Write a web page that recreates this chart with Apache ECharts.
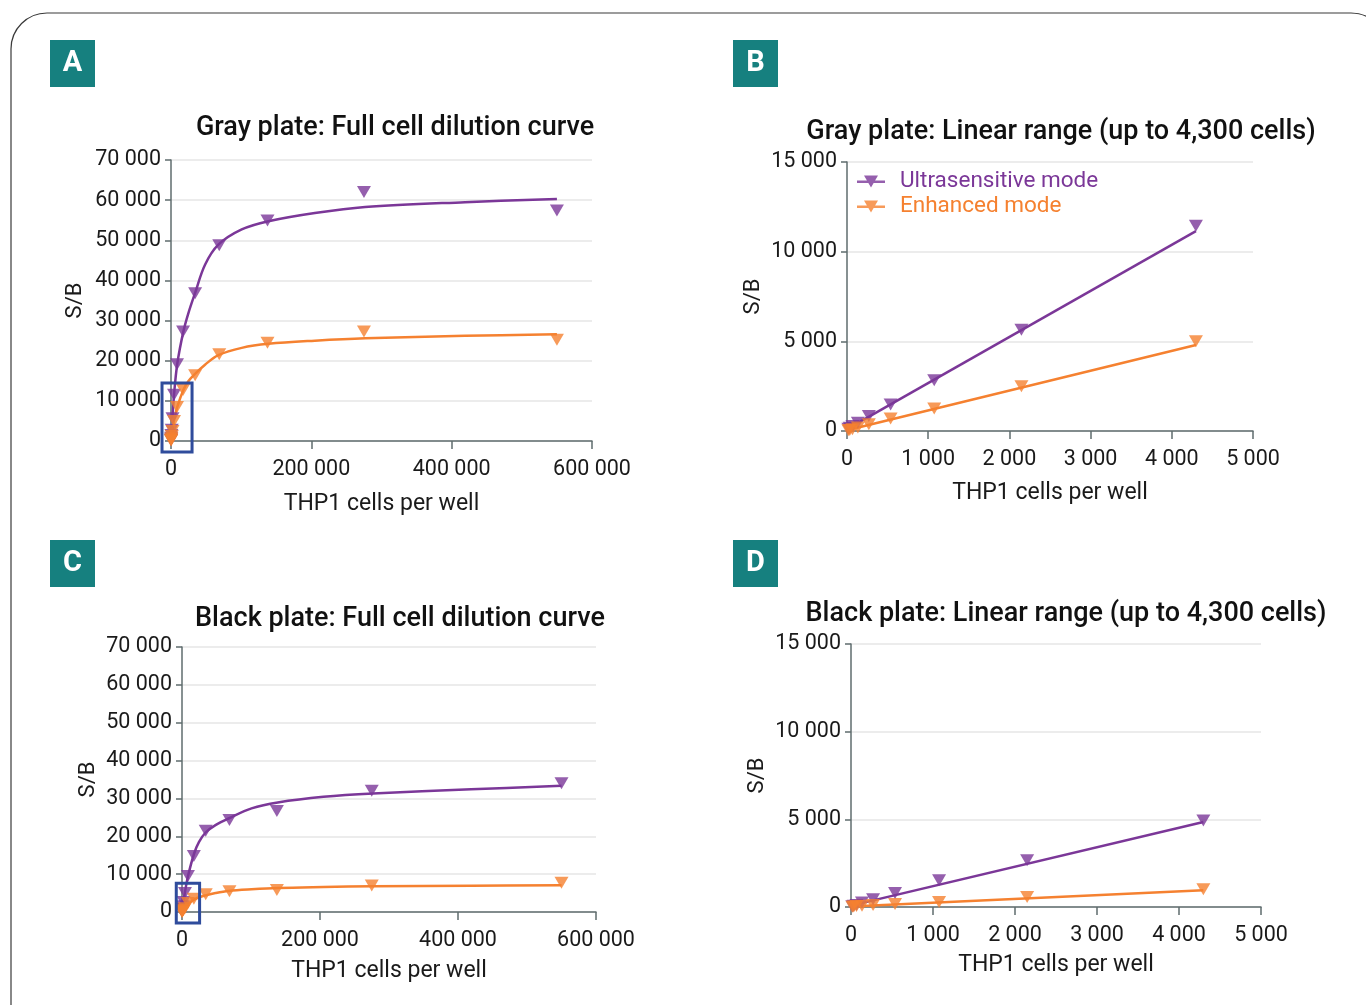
<!DOCTYPE html>
<html lang="en">
<head>
    <meta charset="UTF-8">
    <title>THP1 cell dilution curves</title>
    <script src="https://cdn.jsdelivr.net/npm/echarts@6/dist/echarts.min.js"></script>
    <style>
        html, body { margin: 0; padding: 0; background: #fff; }
        #main { width: 1366px; height: 1005px; }
    </style>
</head>
<body>
<div id="main"></div>
<script>
    // cells per well (2-fold dilutions)
    var xFull = [550000, 275000, 137500, 68750, 34375, 17188, 8594, 4297, 2148, 1074, 537, 269, 134, 67];
    var xLin = [4297, 2148, 1074, 537, 269, 134, 67, 34, 17];

    // panel A, gray plate, full curve
    var aUltra = [57400, 62000, 54900, 48750, 36800, 27250, 19100, 11500, 5650, 2830, 1480, 830, 460, 280];
    var aEnh = [25200, 27250, 24500, 21600, 16400, 12700, 8500, 5000, 2500, 1260, 700, 370, 190, 100];
    // panel B, gray plate, linear range
    var bUltra = [11440, 5650, 2830, 1480, 830, 460, 280, 185, 120];
    var bEnh = [5000, 2500, 1260, 700, 370, 190, 100, 60, 40];
    // panel C, black plate, full curve
    var cUltra = [34000, 32000, 26700, 24300, 21450, 14800, 9500, 5000, 2660, 1520, 800, 440, 250, 120];
    var cEnh = [7700, 7000, 5800, 5500, 4700, 3500, 2400, 1010, 570, 285, 170, 110, 70, 50];
    // panel D, black plate, linear range
    var dUltra = [4940, 2660, 1520, 800, 440, 250, 120, 70, 40];
    var dEnh = [1010, 570, 285, 170, 110, 70, 50, 30, 20];

    // fitted curves
    var fitX = [2100, 4300, 9000, 17600, 24700, 34200, 48500, 67500, 100800, 138800, 205000, 276700, 419000, 550000];
    var fitAUltra = [5600, 11500, 19300, 27250, 31800, 36800, 43900, 48900, 52700, 54750, 56800, 58300, 59500, 60300];
    var fitAEnh = [2600, 5200, 8500, 12700, 14900, 16700, 19000, 21400, 23200, 24200, 25000, 25600, 26200, 26600];
    var fitCUltra = [2600, 5300, 9700, 15450, 18500, 21000, 22950, 24700, 27360, 28950, 30450, 31330, 32400, 33360];
    var fitCEnh = [550, 1050, 2200, 3270, 3900, 4400, 5000, 5560, 6000, 6350, 6600, 6800, 6950, 7060];
    var fitLinX = [0, 4297];
    var fitBUltra = [100, 11150];
    var fitBEnh = [40, 4800];
    var fitDUltra = [80, 4850];
    var fitDEnh = [30, 960];

    var titles = ['Gray plate: Full cell dilution curve', 'Gray plate: Linear range (up to 4,300 cells)',
        'Black plate: Full cell dilution curve', 'Black plate: Linear range (up to 4,300 cells)'];
    var seriesNames = ['Ultrasensitive mode', 'Enhanced mode'];

    var purple = '#7b3798';
    var orange = '#f58130';
    var teal = '#16807f';
    var axisColor = '#5f6c6e';
    var fontFam = 'Roboto, "Noto Sans", sans-serif';

    function pairs(xs, ys) {
        return xs.map(function (x, i) { return [x, ys[i]]; });
    }
    function spaced(v) {
        return String(v).replace(/\B(?=(\d{3})+(?!\d))/g, ' ');
    }

    var grids = [
        {left: 171, top: 160, width: 421, height: 281},
        {left: 847, top: 162, width: 406, height: 269},
        {left: 182, top: 647, width: 414, height: 265},
        {left: 851, top: 644, width: 410, height: 263}
    ];

    function xAx(i, max, interval, gap) {
        return {
            gridIndex: i, type: 'value', min: 0, max: max, interval: interval,
            name: 'THP1 cells per well', nameLocation: 'middle', nameGap: gap,
            nameTextStyle: {fontSize: 23, color: '#1a1a1a', fontFamily: fontFam},
            axisLine: {show: true, onZero: false, lineStyle: {color: axisColor, width: 1.5}},
            axisTick: {show: true, length: 8, lineStyle: {color: axisColor, width: 1.5}},
            axisLabel: {fontSize: 21.5, color: '#1a1a1a', margin: 18, fontFamily: fontFam, formatter: spaced},
            splitLine: {show: false}
        };
    }
    function yAx(i, max, interval, gap) {
        return {
            gridIndex: i, type: 'value', min: 0, max: max, interval: interval,
            name: 'S/B', nameLocation: 'middle', nameGap: gap, nameRotate: 90,
            nameTextStyle: {fontSize: 22, color: '#1a1a1a', fontFamily: fontFam},
            axisLine: {show: true, onZero: false, lineStyle: {color: axisColor, width: 1.5}},
            axisTick: {show: true, length: 6, lineStyle: {color: axisColor, width: 1.5}},
            axisLabel: {fontSize: 21.5, color: '#1a1a1a', margin: 10, fontFamily: fontFam, formatter: spaced},
            splitLine: {show: true, lineStyle: {color: '#e6e6e6', width: 1.5}}
        };
    }

    function fitSeries(i, name, xs, ys, color, smooth) {
        return {
            name: name, type: 'line', xAxisIndex: i, yAxisIndex: i,
            data: pairs(xs, ys), smooth: smooth,
            symbol: 'none', lineStyle: {color: color, width: 2.5}, z: 2, silent: true
        };
    }
    function pointSeries(i, name, xs, ys, color) {
        return {
            name: name, type: 'scatter', xAxisIndex: i, yAxisIndex: i,
            data: pairs(xs, ys), symbol: 'triangle', symbolRotate: 180, symbolSize: [14, 12],
            itemStyle: {color: color}, z: 3
        };
    }

    var chart = echarts.init(document.getElementById('main'));
    var legendIcon = 'path://M0,5 L28,5 L28,7.5 L0,7.5 Z M7,0 L21,0 L14,12 Z';

    var option = {
        animation: false,
        textStyle: {fontFamily: fontFam},
        grid: grids,
        title: [
            {text: titles[0], left: 390, top: 110, textAlign: 'center'},
            {text: titles[1], left: 1056, top: 114, textAlign: 'center'},
            {text: titles[2], left: 395, top: 601, textAlign: 'center'},
            {text: titles[3], left: 1061, top: 596, textAlign: 'center'}
        ].map(function (t) {
            t.textStyle = {fontSize: 27, fontWeight: 500, color: '#111', fontFamily: fontFam};
            return t;
        }),
        legend: {
            left: 852, top: 165, orient: 'vertical', itemGap: 2,
            itemWidth: 28, itemHeight: 13,
            textStyle: {fontSize: 22.5, fontFamily: fontFam, padding: [0, 0, 0, 10]},
            data: [
                {name: seriesNames[0], icon: legendIcon, itemStyle: {color: purple}, textStyle: {color: purple}},
                {name: seriesNames[1], icon: legendIcon, itemStyle: {color: orange}, textStyle: {color: orange}}
            ]
        },
        xAxis: [xAx(0, 600000, 200000, 52), xAx(1, 5000, 1000, 51), xAx(2, 600000, 200000, 48), xAx(3, 5000, 1000, 47)],
        yAxis: [yAx(0, 70000, 10000, 85), yAx(1, 15000, 5000, 83), yAx(2, 70000, 10000, 83), yAx(3, 15000, 5000, 83)],
        series: [
            fitSeries(0, 'A fit ultra', fitX, fitAUltra, purple, 0.35),
            fitSeries(0, 'A fit enh', fitX, fitAEnh, orange, 0.35),
            pointSeries(0, 'A ultra', xFull, aUltra, purple),
            pointSeries(0, 'A enh', xFull, aEnh, orange),

            fitSeries(1, 'B fit ultra', fitLinX, fitBUltra, purple, false),
            fitSeries(1, 'B fit enh', fitLinX, fitBEnh, orange, false),
            pointSeries(1, seriesNames[0], xLin, bUltra, purple),
            pointSeries(1, seriesNames[1], xLin, bEnh, orange),

            fitSeries(2, 'C fit ultra', fitX, fitCUltra, purple, 0.35),
            fitSeries(2, 'C fit enh', fitX, fitCEnh, orange, 0.35),
            pointSeries(2, 'C ultra', xFull, cUltra, purple),
            pointSeries(2, 'C enh', xFull, cEnh, orange),

            fitSeries(3, 'D fit ultra', fitLinX, fitDUltra, purple, false),
            fitSeries(3, 'D fit enh', fitLinX, fitDEnh, orange, false),
            pointSeries(3, 'D ultra', xLin, dUltra, purple),
            pointSeries(3, 'D enh', xLin, dEnh, orange)
        ]
    };
    chart.setOption(option);

    // panel letters, outer frame and the blue boxes around the linear range
    var letters = [['A', 50, 40], ['B', 733, 40], ['C', 50, 540], ['D', 733, 540]];
    var boxes = [[0, -12800, 30000, 14460, -2740], [2, -8300, 25500, 7600, -2900]];
    var graphics = [{
        type: 'rect', shape: {x: 11, y: 13, width: 1376, height: 1100, r: 36},
        style: {fill: 'none', stroke: '#3a3a3a', lineWidth: 1.2}, z: 0
    }];
    letters.forEach(function (l) {
        graphics.push({
            type: 'group', left: l[1], top: l[2], children: [
                {type: 'rect', shape: {x: 0, y: 0, width: 45, height: 47}, style: {fill: teal}},
                {type: 'text', x: 22.5, y: 24, style: {text: l[0], fill: '#fff', fontSize: 29, fontWeight: 'bold',
                        fontFamily: fontFam, align: 'center', verticalAlign: 'middle'}}
            ]
        });
    });
    boxes.forEach(function (b) {
        var p1 = chart.convertToPixel({gridIndex: b[0]}, [b[1], b[3]]);
        var p2 = chart.convertToPixel({gridIndex: b[0]}, [b[2], b[4]]);
        graphics.push({
            type: 'rect', z: 10,
            shape: {x: p1[0], y: p1[1], width: p2[0] - p1[0], height: p2[1] - p1[1]},
            style: {fill: 'none', stroke: '#2f4c9c', lineWidth: 3}
        });
    });
    chart.setOption({graphic: graphics});
</script>
</body>
</html>
